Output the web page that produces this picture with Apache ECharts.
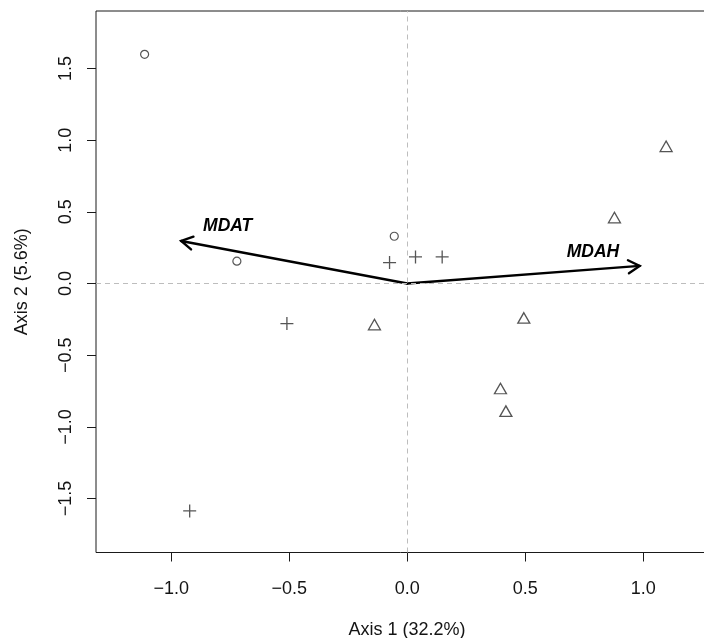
<!DOCTYPE html>
<html>
<head>
<meta charset="utf-8">
<script src="https://cdn.jsdelivr.net/npm/echarts@6/dist/echarts.min.js"></script>
<style>
html,body{margin:0;padding:0;background:#fff;}
#chart{width:704px;height:638px;}
</style>
</head>
<body>
<div id="chart"></div>
<script>
// ---- data ----
var circlePoints = [[-1.113, 1.599], [-0.722, 0.156], [-0.055, 0.330]];
var plusPoints = [[-0.922, -1.586], [-0.510, -0.279], [-0.075, 0.146], [0.035, 0.186], [0.148, 0.186]];
var trianglePoints = [[-0.139, -0.286], [0.494, -0.240], [0.395, -0.732], [0.418, -0.890], [0.878, 0.460], [1.097, 0.957]];
var arrowNames = ['MDAT', 'MDAH'];
var arrowTips = [[-0.958, 0.297], [0.985, 0.123]];
var arrowLabelPos = [[-0.761, 0.40], [0.787, 0.22]];
var xTicks = [-1.0, -0.5, 0.0, 0.5, 1.0];
var yTicks = [-1.5, -1.0, -0.5, 0.0, 0.5, 1.0, 1.5];
var xRange = [-1.319, 1.283];
var yRange = [-1.876, 1.901];
var xTitle = 'Axis 1 (32.2%)';
var yTitle = 'Axis 2 (5.6%)';

var FONT = "'Liberation Sans', Arial, Helvetica, sans-serif";
var INK = '#141414';
function fmt(v){ var s = v.toFixed(1); return v < 0 ? '\u2212' + s.slice(1) : s; }

var chart = echarts.init(document.getElementById('chart'), null, {renderer: 'canvas'});

var arrowData = arrowTips.map(function(t, i){ return [t[0], t[1], arrowLabelPos[i][0], arrowLabelPos[i][1], arrowNames[i]]; });

var option = {
  animation: false,
  backgroundColor: '#ffffff',
  grid: {left: 96, top: 11, width: 614, height: 541.5, show: true, borderColor: '#1a1a1a', borderWidth: 1, backgroundColor: 'transparent', containLabel: false, outerBoundsMode: 'none'},
  xAxis: {
    type: 'value', min: xRange[0], max: xRange[1],
    name: xTitle, nameLocation: 'middle', nameGap: 69,
    nameTextStyle: {fontSize: 18, fontFamily: FONT, color: INK, padding: [0, 0, 0, 8]},
    axisLine: {show: false, onZero: false},
    axisTick: {show: true, inside: false, length: 9, customValues: xTicks, lineStyle: {color: '#1a1a1a', width: 1}},
    axisLabel: {show: true, customValues: xTicks, formatter: fmt, fontSize: 18, fontFamily: FONT, color: INK, margin: 28},
    splitLine: {show: false}
  },
  yAxis: {
    type: 'value', min: yRange[0], max: yRange[1],
    name: yTitle, nameLocation: 'middle', nameGap: 65,
    nameTextStyle: {fontSize: 18, fontFamily: FONT, color: INK},
    axisLine: {show: false, onZero: false},
    axisTick: {show: true, inside: false, length: 9, customValues: yTicks, lineStyle: {color: '#1a1a1a', width: 1}},
    axisLabel: {show: true, customValues: yTicks, formatter: fmt, rotate: 90, fontSize: 18, fontFamily: FONT, color: INK, margin: 21},
    splitLine: {show: false}
  },
  series: [
    {
      type: 'line', data: [], silent: true,
      markLine: {
        silent: true, symbol: ['none', 'none'], label: {show: false},
        lineStyle: {color: '#bdbdbd', type: [5, 4], width: 1},
        data: [{xAxis: 0}, {yAxis: 0}]
      }
    },
    {
      type: 'scatter', data: circlePoints, symbol: 'circle', symbolSize: 8,
      itemStyle: {color: 'none', borderColor: '#2a2a2a', borderWidth: 1.2}
    },
    {
      type: 'scatter', data: plusPoints, symbol: 'path://M0,-6L0,6M-6,0L6,0', symbolSize: 13,
      itemStyle: {color: 'none', borderColor: '#2a2a2a', borderWidth: 1.3}
    },
    {
      type: 'scatter', data: trianglePoints, symbol: 'triangle', symbolSize: [12, 10.5],
      itemStyle: {color: 'none', borderColor: '#2a2a2a', borderWidth: 1.3}
    },
    {
      type: 'custom', data: arrowData, silent: true,
      renderItem: function(params, api){
        var o = api.coord([0, 0]);
        var t = api.coord([api.value(0), api.value(1)]);
        var lp = api.coord([api.value(2), api.value(3)]);
        var ang = Math.atan2(t[1] - o[1], t[0] - o[0]);
        var L = 13, a = Math.PI / 6;
        var h1 = [t[0] - L * Math.cos(ang - a), t[1] - L * Math.sin(ang - a)];
        var h2 = [t[0] - L * Math.cos(ang + a), t[1] - L * Math.sin(ang + a)];
        return {
          type: 'group',
          children: [
            {type: 'line', shape: {x1: o[0], y1: o[1], x2: t[0], y2: t[1]}, style: {stroke: '#000', lineWidth: 2.4, lineCap: 'round'}},
            {type: 'polyline', shape: {points: [h1, t, h2]}, style: {stroke: '#000', fill: null, lineWidth: 2.4, lineJoin: 'miter', lineCap: 'round'}},
            {type: 'text', x: lp[0], y: lp[1], style: {text: api.value(4), fontSize: 17.5, fontWeight: 'bold', fontStyle: 'italic', fontFamily: FONT, fill: '#000', align: 'center', verticalAlign: 'middle'}}
          ]
        };
      }
    }
  ]
};
chart.setOption(option);
</script>
</body>
</html>
